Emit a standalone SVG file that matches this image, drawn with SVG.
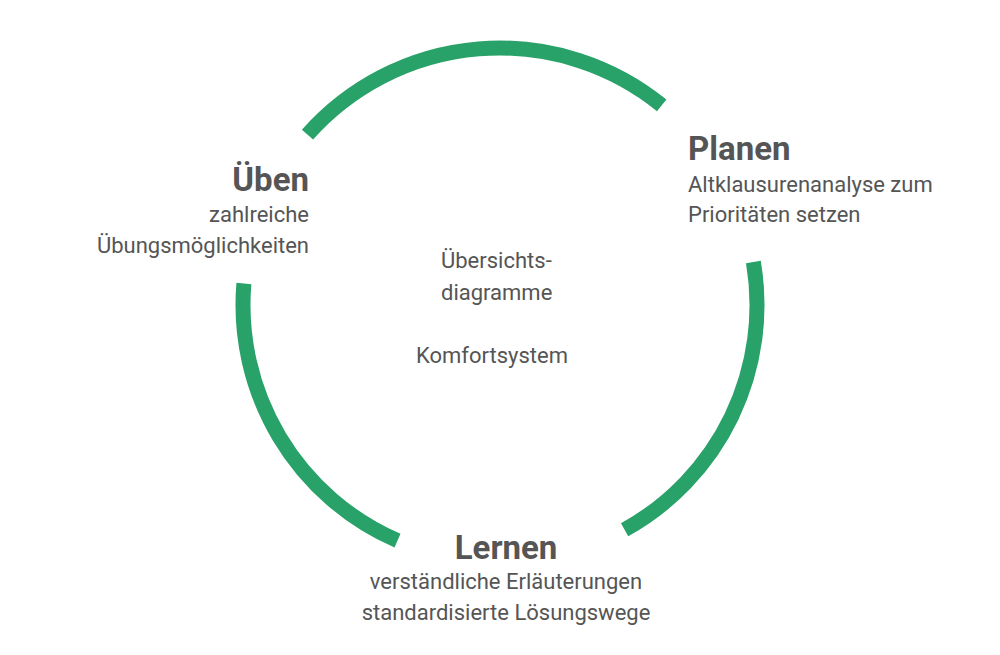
<svg xmlns="http://www.w3.org/2000/svg" width="1000" height="655" viewBox="0 0 1000 655">
<style>
.arc{fill:none;stroke:#28a269;stroke-width:15;stroke-linecap:butt}
text{font-family:Roboto,"Liberation Sans",sans-serif;fill:#555}
.h{font-size:33px;font-weight:bold}
.t{font-size:22px}
</style>
<rect width="1000" height="655" fill="#fff"/>
<g id="connectors">
<path class="arc" d="M307.5,134.6 A257,257 0 0 1 661.7,105.3"/>
<path class="arc" d="M753.4,262.1 A257,257 0 0 1 624.6,529.8"/>
<path class="arc" d="M397.5,540.7 A257,257 0 0 1 243.9,283.5"/>
</g>
<g id="planen">
<text class="h" x="688" y="160">Planen</text>
<text class="t" x="688" y="192">Altklausurenanalyse zum</text>
<text class="t" x="688" y="222">Prioritäten setzen</text>
</g>
<g id="uben" text-anchor="end">
<text class="h" x="309" y="191">Üben</text>
<text class="t" x="309" y="222">zahlreiche</text>
<text class="t" x="309" y="253">Übungsmöglichkeiten</text>
</g>
<g id="lernen" text-anchor="middle">
<text class="h" x="506" y="559">Lernen</text>
<text class="t" x="506" y="589">verständliche Erläuterungen</text>
<text class="t" x="506" y="620">standardisierte Lösungswege</text>
</g>
<g id="center">
<text class="t" x="441" y="268">Übersichts-</text>
<text class="t" x="441" y="300">diagramme</text>
<text class="t" x="416" y="363">Komfortsystem</text>
</g>
</svg>
